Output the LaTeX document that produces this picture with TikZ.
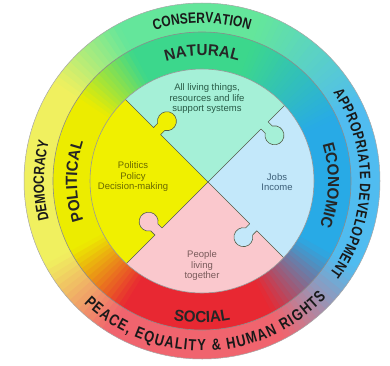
\documentclass[tikz,border=0pt]{standalone}
\usepackage{fontspec}
\setmainfont{Liberation Sans}
\newfontfamily\labcond[FakeStretch=0.8]{Liberation Sans}
\newfontfamily\labmid[FakeStretch=0.95]{Liberation Sans}
\usetikzlibrary{decorations.text}
\definecolor{oG}{RGB}{100,230,155}
\definecolor{oB}{RGB}{80,188,240}
\definecolor{oR}{RGB}{240,100,110}
\definecolor{oY}{RGB}{240,240,95}
\definecolor{mG}{RGB}{60,215,140}
\definecolor{mB}{RGB}{40,170,230}
\definecolor{mR}{RGB}{232,40,50}
\definecolor{mY}{RGB}{236,236,0}
\definecolor{inY}{RGB}{240,240,0}
\definecolor{inT}{RGB}{165,240,215}
\definecolor{inB}{RGB}{195,232,250}
\definecolor{inP}{RGB}{250,200,205}
\definecolor{pline}{RGB}{85,95,75}
\definecolor{txT}{RGB}{40,90,70}
\definecolor{txY}{RGB}{105,105,0}
\definecolor{txB}{RGB}{60,95,120}
\definecolor{txP}{RGB}{120,90,90}
\newcommand\olabfont{\labcond\bfseries\fontsize{15}{15}\selectfont\color{black!90}}
\newcommand\obigfont{\labcond\bfseries\fontsize{16}{16}\selectfont\color{black!90}}
\newcommand\mlabfont{\labmid\bfseries\fontsize{16}{16}\selectfont\color{black!85}}
\begin{document}
\begin{tikzpicture}[x=1pt,y=1pt,
  intext/.style={align=center,font=\fontsize{9.5}{10.5}\selectfont,inner sep=0pt},
  puzline/.style={draw=pline,line width=0.6pt,line join=round}]
\useasboundingbox (0,0) rectangle (390,365);
\fill[white] (0,0) rectangle (390,365);
\begin{scope}[shift={(202,184)}]
% outer ring
\foreach \sa/\ea/\ca/\cb in {-30/25/B/B, 25/70/B/G, 70/118/G/G, 118/146/G/Y, 146/208/Y/Y, 208/238/Y/R, 238/298/R/R, 298/330/R/B} {
  \pgfmathtruncatemacro\nn{(\ea-\sa)/2}
  \foreach \i in {1,...,\nn} {
    \pgfmathsetmacro\angA{\sa+(\i-1)*(\ea-\sa)/\nn}
    \pgfmathsetmacro\angB{\sa+\i*(\ea-\sa)/\nn+0.5}
    \pgfmathtruncatemacro\pp{100*(\i-0.5)/\nn}
    \fill[o\cb!\pp!o\ca] (0,0) -- (\angA:178pt) arc[start angle=\angA, end angle=\angB, radius=178pt] -- cycle;
  }
}
% middle ring
\foreach \sa/\ea/\ca/\cb in {-30/25/B/B, 25/70/B/G, 70/118/G/G, 118/146/G/Y, 146/208/Y/Y, 208/238/Y/R, 238/298/R/R, 298/330/R/B} {
  \pgfmathtruncatemacro\nn{(\ea-\sa)/2}
  \foreach \i in {1,...,\nn} {
    \pgfmathsetmacro\angA{\sa+(\i-1)*(\ea-\sa)/\nn}
    \pgfmathsetmacro\angB{\sa+\i*(\ea-\sa)/\nn+0.5}
    \pgfmathtruncatemacro\pp{100*(\i-0.5)/\nn}
    \fill[m\cb!\pp!m\ca] (0,0) -- (\angA:149pt) arc[start angle=\angA, end angle=\angB, radius=149pt] -- cycle;
  }
}
\draw[black!35,line width=0.5pt] (0,0) circle (178pt);
\draw[black!45,line width=0.6pt] (0,0) circle (149pt);
% puzzle
\begin{scope}
\clip (0,0) circle (112pt);
\begin{scope}[shift={(6pt,-1pt)}]
  \fill[inY] (0,0) -- (135:200pt) -- (180:200pt) -- (225:200pt) -- cycle;
  \fill[inT] (0,0) -- (45:200pt) -- (90:200pt) -- (135:200pt) -- cycle;
  \fill[inB] (0,0) -- (-45:200pt) -- (0:200pt) -- (45:200pt) -- cycle;
  \fill[inP] (0,0) -- (225:200pt) -- (270:200pt) -- (315:200pt) -- cycle;
  \foreach \ang/\s/\col in {135/72/inY, 45/80/inT, 315/64/inB, 225/70/inP} {
    \begin{scope}[rotate=\ang]
      \fill[\col] (\s-5,0.6) -- (\s-5,-5.9) arc[start angle=122, end angle=418, radius=9.5pt] -- (\s+5,0.6) -- cycle;
      \draw[puzline] (0,0) -- (\s-5,0) -- (\s-5,-5.9) arc[start angle=122, end angle=418, radius=9.5pt] -- (\s+5,0) -- (200,0);
    \end{scope}
  }
\end{scope}
\end{scope}
\draw[black!40,line width=0.6pt] (0,0) circle (112pt);
% outer ring labels
\path[decorate,decoration={text along path,text align=center,text={|\olabfont|CONSERVATION}}]
  (150:158pt) arc[start angle=150,end angle=30,radius=158pt];
\path[decorate,decoration={text along path,text align=center,text={|\olabfont|DEMOCRACY}}]
  (240:158pt) arc[start angle=240,end angle=120,radius=158pt];
\path[decorate,decoration={text along path,text align={fit to path},text={|\olabfont|APPROPRIATE DEVELOPMENT}}]
  (34:158pt) arc[start angle=34,end angle=-36,radius=158pt];
\path[decorate,decoration={text along path,text align={fit to path},text={|\obigfont|PEACE, EQUALITY {\&} HUMAN RIGHTS}}]
  (226:170pt) arc[start angle=226,end angle=317,radius=170pt];
% middle ring labels
\path[decorate,decoration={text along path,text align=center,text={|\mlabfont|NATURAL}}]
  (150:125pt) arc[start angle=150,end angle=30,radius=125pt];
\path[decorate,decoration={text along path,text align=center,text={|\mlabfont|POLITICAL}}]
  (240:125pt) arc[start angle=240,end angle=120,radius=125pt];
\path[decorate,decoration={text along path,text align=center,text={|\mlabfont|ECONOMIC}}]
  (58:126pt) arc[start angle=58,end angle=-62,radius=126pt];
\path[decorate,decoration={text along path,text align=center,text={|\mlabfont|SOCIAL}}]
  (210:142pt) arc[start angle=210,end angle=330,radius=142pt];
% inner texts
\node[intext,text=txT] (tnat) at (5,82) {All living things,\\resources and life\\support systems};
\node[intext,text=txY] (tpol) at (-69,4) {Politics\\Policy\\Decision-making};
\node[intext,text=txB] (teco) at (75,-1) {Jobs\\Income};
\node[intext,text=txP] (tsoc) at (0,-85) {People\\living\\together};
\end{scope}
\end{tikzpicture}
\end{document}
